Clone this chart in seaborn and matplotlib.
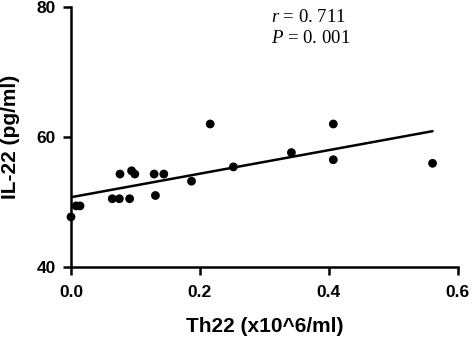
import matplotlib
matplotlib.use("Agg")
import matplotlib.pyplot as plt
import seaborn as sns
import pandas as pd

th22 = [0.0, 0.008, 0.014, 0.064, 0.075, 0.091, 0.076, 0.094, 0.099, 0.129,
        0.144, 0.131, 0.187, 0.216, 0.252, 0.342, 0.407, 0.407, 0.561]
il22 = [47.7, 49.4, 49.4, 50.5, 50.5, 50.5, 54.3, 54.8, 54.3, 54.3,
        54.3, 51.0, 53.2, 62.0, 55.4, 57.6, 62.0, 56.5, 55.95]
x_ticks = [0.0, 0.2, 0.4, 0.6]
y_ticks = [40, 60, 80]
stat_lines = [("r", " = 0. 711"), ("P", " = 0. 001")]

sns.set_theme(style="ticks")
plt.rcParams["font.family"] = ["Liberation Sans", "DejaVu Sans"]
plt.rcParams["mathtext.fontset"] = "custom"
plt.rcParams["mathtext.it"] = "Liberation Serif:italic"
plt.rcParams["mathtext.rm"] = "Liberation Serif"
plt.rcParams["text.color"] = "black"
plt.rcParams["axes.labelcolor"] = "black"

df = pd.DataFrame({"x": th22, "y": il22})

fig = plt.figure(figsize=(4.72, 3.38), dpi=100)
ax = fig.add_axes([0.1504, 0.2101, 0.8193, 0.7692])

sns.regplot(data=df, x="x", y="y", ax=ax, ci=None, truncate=True,
            scatter_kws=dict(s=40, color="black", alpha=1, edgecolor="none", zorder=3, clip_on=False),
            line_kws=dict(color="black", lw=1.8))

ax.set_xlim(0, 0.6)
ax.set_ylim(40, 80)
ax.set_xticks(x_ticks)
ax.set_xticklabels([f"{v:.1f}" for v in x_ticks])
ax.set_yticks(y_ticks)
ax.set_yticklabels([str(v) for v in y_ticks])
for s in ["top", "right"]:
    ax.spines[s].set_visible(False)
for s in ["left", "bottom"]:
    ax.spines[s].set_linewidth(1.8)
    ax.spines[s].set_color("black")
ax.tick_params(direction="out", length=6, width=1.8, colors="black", labelsize=12.5)
ax.tick_params(axis="x", pad=7)
ax.tick_params(axis="y", pad=5)
for lab in ax.get_xticklabels() + ax.get_yticklabels():
    lab.set_fontweight("bold")

ax.set_xlabel("Th22 (x10^6/ml)", fontsize=15, fontweight="bold", labelpad=12)
ax.set_ylabel("IL-22 (pg/ml)", fontsize=15, fontweight="bold", labelpad=12)

ys = [0.96, 0.88]
for (var, rest), yy in zip(stat_lines, ys):
    ax.text(0.517, yy, f"${var}$" + rest, transform=ax.transAxes, fontsize=13.5,
            family="Liberation Serif", va="center", ha="left", color="black")

fig.savefig("out.png", dpi=100)
